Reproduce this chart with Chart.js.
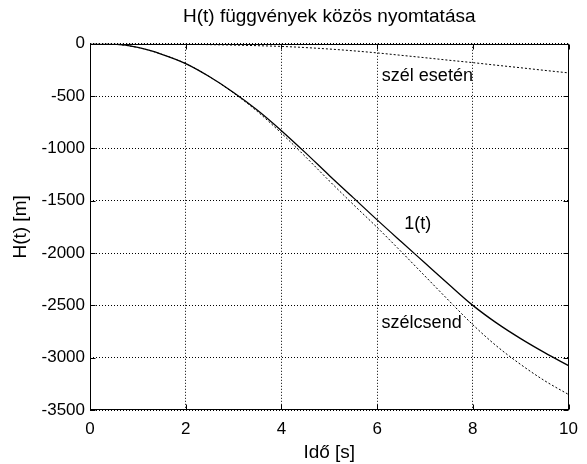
<!DOCTYPE html>
<html>
<head>
<meta charset="utf-8">
<script src="https://cdn.jsdelivr.net/npm/chart.js@4.4.0/dist/chart.umd.min.js"></script>
<style>
  html, body { margin: 0; padding: 0; background: #fff; }
</style>
</head>
<body>
<canvas id="chart" width="587" height="464"></canvas>
<script>
// time samples [s]
const times = [0, 0.5, 1, 1.5, 2, 2.5, 3, 3.5, 4, 4.5, 5, 5.5, 6, 6.5, 7, 7.5, 8, 8.5, 9, 9.5, 10];
// H(t) [m]
const h1 = [0, -4, -35, -100, -189, -315, -465, -635, -830, -1040, -1258, -1470, -1683, -1890, -2095, -2300, -2500, -2670, -2818, -2952, -3076];
const hSzelcsend = [0, -4, -35, -100, -189, -316, -470, -648, -855, -1078, -1310, -1535, -1755, -1985, -2220, -2455, -2685, -2890, -3065, -3220, -3352];
const hSzelEseten = [0, 0, -1, -3, -5, -8, -12, -18, -25, -36, -50, -67, -87, -110, -133, -157, -180, -205, -229, -254, -278];

const xTicks = [0, 2, 4, 6, 8, 10];
const yTicks = [0, -500, -1000, -1500, -2000, -2500, -3000, -3500];

// curve names written next to the curves (data coordinates)
const curveNames = ['szél esetén', '1(t)', 'szélcsend'];
const nameAtT = [7.05, 6.85, 6.93];
const nameAtH = [-310, -1721, -2665];

const FONT = 'Arial, "Liberation Sans", sans-serif';

const toPoints = arr => arr.map((v, i) => ({ x: times[i], y: v }));

// box, inward tick marks and curve names
const frame = {
  id: 'frame',
  afterDatasetsDraw(chart) {
    const { ctx, chartArea: a, scales: { x, y } } = chart;
    const L = Math.round(a.left) + 0.5, R = Math.round(a.right) - 0.5;
    const T = Math.round(a.top) + 0.5, B = Math.round(a.bottom) - 0.5;
    ctx.save();
    ctx.strokeStyle = '#000';
    ctx.lineWidth = 1;
    ctx.setLineDash([]);
    ctx.beginPath();
    xTicks.forEach(v => {
      const px = Math.round(x.getPixelForValue(v)) + 0.5;
      ctx.moveTo(px, B); ctx.lineTo(px, B - 5);
      ctx.moveTo(px, T); ctx.lineTo(px, T + 5);
    });
    yTicks.forEach(v => {
      const py = Math.round(y.getPixelForValue(v)) + 0.5;
      ctx.moveTo(L, py); ctx.lineTo(L + 5, py);
      ctx.moveTo(R, py); ctx.lineTo(R - 5, py);
    });
    ctx.stroke();
    ctx.strokeRect(L, T, R - L, B - T);

    ctx.font = '18px ' + FONT;
    ctx.fillStyle = '#000';
    ctx.textAlign = 'center';
    ctx.textBaseline = 'middle';
    curveNames.forEach((name, i) => {
      ctx.fillText(name, x.getPixelForValue(nameAtT[i]), y.getPixelForValue(nameAtH[i]));
    });
    ctx.restore();
  }
};

new Chart(document.getElementById('chart'), {
  type: 'line',
  data: {
    datasets: [
      {
        label: '1(t)',
        data: toPoints(h1),
        borderColor: '#000',
        borderWidth: 1.3,
        pointRadius: 0,
        cubicInterpolationMode: 'monotone'
      },
      {
        label: 'szélcsend',
        data: toPoints(hSzelcsend),
        borderColor: '#000',
        borderWidth: 1,
        borderDash: [2, 2],
        pointRadius: 0,
        cubicInterpolationMode: 'monotone'
      },
      {
        label: 'szél esetén',
        data: toPoints(hSzelEseten),
        borderColor: '#000',
        borderWidth: 1,
        borderDash: [2, 2],
        pointRadius: 0,
        cubicInterpolationMode: 'monotone'
      }
    ]
  },
  options: {
    responsive: false,
    animation: false,
    layout: { padding: { left: 0, right: 10, top: 0, bottom: 0 } },
    plugins: {
      legend: { display: false },
      tooltip: { enabled: false },
      title: {
        display: true,
        text: 'H(t) függvények közös nyomtatása',
        color: '#000',
        fullSize: false,
        font: { family: FONT, size: 19, weight: 'normal' },
        padding: { top: 5, bottom: 16 }
      }
    },
    scales: {
      x: {
        type: 'linear',
        min: 0,
        max: 10,
        afterBuildTicks: s => { s.ticks = xTicks.map(v => ({ value: v })); },
        afterFit: s => { s.height = 54; },
        ticks: {
          color: '#000',
          padding: 9,
          maxRotation: 0,
          font: { family: FONT, size: 17 },
          callback: v => String(v)
        },
        grid: { color: '#000', lineWidth: 1, drawTicks: false },
        border: { display: false, dash: [1, 2] },
        title: {
          display: true,
          text: 'Idő [s]',
          color: '#000',
          font: { family: FONT, size: 19 },
          padding: { top: 0, bottom: 0 }
        }
      },
      y: {
        min: -3500,
        max: 0,
        afterBuildTicks: s => { s.ticks = yTicks.map(v => ({ value: v })); },
        afterFit: s => { s.width = 90; },
        ticks: {
          color: '#000',
          padding: 5,
          font: { family: FONT, size: 17 },
          callback: v => String(v)
        },
        grid: { color: '#000', lineWidth: 1, drawTicks: false },
        border: { display: false, dash: [1, 2] },
        title: {
          display: true,
          text: 'H(t) [m]',
          color: '#000',
          font: { family: FONT, size: 19 },
          padding: { top: 9, bottom: 0 }
        }
      }
    }
  },
  plugins: [frame]
});
</script>
</body>
</html>
